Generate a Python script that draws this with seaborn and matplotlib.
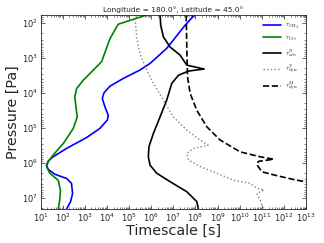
import numpy as np
import pandas as pd
import matplotlib
matplotlib.use('Agg')
import matplotlib.pyplot as plt
import seaborn as sns

# values, stored as log10(timescale [s]) and log10(pressure [Pa])
ch4_logt = [7.95, 7.53, 6.70, 5.95, 5.49, 4.74, 4.14, 3.87, 3.79, 3.91, 4.06, 4.02, 3.68, 3.08, 2.18,
            1.57, 1.35, 1.27, 1.35, 1.65, 2.18, 2.40, 2.45, 2.36, 2.18]
ch4_logp = [1.78, 2.07, 2.73, 3.16, 3.35, 3.59, 3.81, 4.00, 4.16, 4.40, 4.64, 4.78, 5.02, 5.28, 5.59,
            5.83, 5.95, 6.07, 6.19, 6.33, 6.45, 6.59, 6.88, 7.11, 7.32]

co_logt = [5.77, 4.51, 4.14, 3.76, 3.31, 2.93, 2.63, 2.55, 2.60, 2.66, 2.48, 2.03, 1.57, 1.35, 1.27,
           1.42, 1.80, 1.90, 1.87, 1.80]
co_logp = [1.78, 2.04, 2.45, 3.11, 3.40, 3.64, 3.88, 4.11, 4.40, 4.69, 5.02, 5.45, 5.78, 5.97, 6.11,
           6.30, 6.50, 6.78, 7.07, 7.32]

adv_logt = [6.40, 6.43, 6.55, 6.85, 7.30, 7.61, 8.39, 7.68, 7.23, 6.93, 6.70, 6.40, 6.10, 5.90, 5.87,
            5.95, 6.25, 6.85, 7.61, 8.06, 8.13]
adv_logp = [1.78, 2.07, 2.40, 2.69, 2.92, 3.21, 3.32, 3.38, 3.50, 3.73, 4.21, 4.69, 5.16, 5.54, 5.83,
            6.07, 6.30, 6.54, 6.83, 7.11, 7.32]

dynv_logt = [5.26, 5.34, 5.49, 5.80, 6.10, 6.55, 7.00, 7.61, 8.21, 8.57, 7.91, 7.61, 7.68, 8.21, 8.96,
             9.72, 10.47, 10.77, 11.10, 10.77, 10.92, 11.07]
dynv_logp = [1.78, 2.40, 2.88, 3.35, 3.73, 4.21, 4.69, 5.07, 5.35, 5.50, 5.59, 5.73, 5.92, 6.11, 6.30,
             6.50, 6.59, 6.73, 6.78, 6.88, 7.07, 7.32]

dynm_logt = [7.58, 7.61, 7.64, 7.76, 8.06, 8.51, 9.11, 10.02, 10.92, 11.53, 10.85, 10.77, 11.00, 11.68,
             12.43, 13.0]
dynm_logp = [1.78, 2.78, 3.54, 4.02, 4.50, 4.97, 5.35, 5.69, 5.83, 5.90, 5.96, 6.05, 6.26, 6.37,
             6.48, 6.55]

labels = [r'$\tau_{\rm CH_4}$', r'$\tau_{\rm CO}$', r'$\tau^{\rm N}_{\rm adv}$',
          r'$\tau^{\rm V}_{\rm dyn}$', r'$\tau^{\rm M}_{\rm dyn}$']
xticks = [10.0**k for k in range(1, 14)]
yticks = [10.0**k for k in range(2, 8)]


def makeFrame(logt, logp, name):
    return pd.DataFrame({'t': 10.0**np.array(logt), 'p': 10.0**np.array(logp), 'name': name})


sns.set_style('ticks')
plt.rcParams['font.family'] = ['DejaVu Sans']
plt.rcParams['mathtext.fontset'] = 'cm'

fig, ax = plt.subplots(figsize=(3.24, 2.43), dpi=100)
curves = [
    (ch4_logt, ch4_logp, 'blue', '-', 1.2),
    (co_logt, co_logp, 'green', '-', 1.2),
    (adv_logt, adv_logp, 'black', '-', 1.2),
    (dynv_logt, dynv_logp, 'gray', ':', 1.0),
    (dynm_logt, dynm_logp, 'black', '--', 1.2),
]
for (lt, lp, col, ls, lw), lab in zip(curves, labels):
    df = makeFrame(lt, lp, lab)
    sns.lineplot(data=df, x='t', y='p', sort=False, estimator=None, color=col,
                 linestyle=ls, linewidth=lw, label=lab, ax=ax)

ax.set_xscale('log')
ax.set_yscale('log')
ax.set_xlim(1e1, 1e13)
ax.set_ylim(2.1e7, 60)
ax.set_xticks(xticks)
ax.set_yticks(yticks)
ax.tick_params(which='both', direction='in', top=True, right=True, labelsize=6, pad=2)
ax.tick_params(which='major', length=3, width=0.5)
ax.tick_params(which='minor', length=1.5, width=0.4)
ax.xaxis.set_minor_locator(matplotlib.ticker.LogLocator(base=10, subs=np.arange(2, 10), numticks=100))
ax.yaxis.set_minor_locator(matplotlib.ticker.LogLocator(base=10, subs=np.arange(2, 10), numticks=100))
for s in ax.spines.values():
    s.set_linewidth(0.6)
ax.set_xlabel('Timescale [s]', fontsize=10.3, labelpad=0)
ax.set_ylabel('Pressure [Pa]', fontsize=10.3, labelpad=1)
ax.set_title('Longitude = 180.0°, Latitude = 45.0°', fontsize=5.4, pad=2)
ax.legend(loc='upper right', fontsize=5, frameon=False, handlelength=2.6, labelspacing=0.55,
          borderaxespad=0.6, handletextpad=0.6)

fig.subplots_adjust(left=0.125, right=0.945, top=0.938, bottom=0.14)
fig.savefig('out.png', dpi=100)
